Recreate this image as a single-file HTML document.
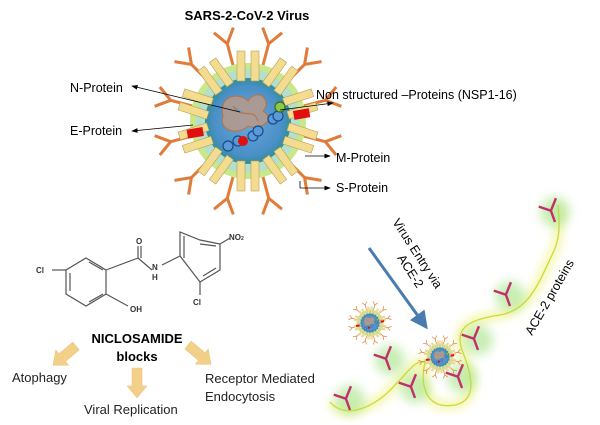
<!DOCTYPE html>
<html><head><meta charset="utf-8"><style>
body{margin:0;background:#fff}
svg{display:block;font-family:"Liberation Sans",sans-serif}
</style></head><body>
<svg id="s" width="600" height="425" viewBox="0 0 600 425">
<defs>
<filter id="glow" x="-50%" y="-50%" width="200%" height="200%"><feGaussianBlur stdDeviation="5"/></filter>
<marker id="ah" markerWidth="8" markerHeight="8" refX="7" refY="4" orient="auto"><path d="M0,1 L8,4 L0,7z" fill="#000"/></marker>
<marker id="bh" markerWidth="6" markerHeight="6" refX="5" refY="3" orient="auto"><path d="M0,0 L6,3 L0,6z" fill="#4a7bb0"/></marker>
<radialGradient id="core" cx="50%" cy="50%" r="50%"><stop offset="0" stop-color="#6aa8d8"/><stop offset="0.8" stop-color="#4a8fc8"/><stop offset="1" stop-color="#2f8f9a"/></radialGradient>
</defs>
<text x="247" y="20" font-size="13" font-weight="bold" text-anchor="middle">SARS-2-CoV-2 Virus</text>
<g id="virus"></g>
<g font-size="12.5">
<text x="70" y="92">N-Protein</text>
<text x="70" y="135">E-Protein</text>
<text x="316" y="99">Non structured –Proteins (NSP1-16)</text>
<text x="336" y="162">M-Protein</text>
<text x="336" y="192">S-Protein</text>
</g>
<g stroke="#000" stroke-width="0.8" fill="none">
<line x1="240" y1="112" x2="132" y2="86" marker-end="url(#ah)"/>
<line x1="193" y1="125" x2="132" y2="131" marker-end="url(#ah)"/>
<line x1="280" y1="110" x2="333" y2="103"  marker-end="url(#ah)"/>
<line x1="305" y1="156" x2="330" y2="156" marker-end="url(#ah)"/>
<line x1="300" y1="181" x2="300" y2="188"/>
<line x1="300" y1="188" x2="330" y2="188" marker-end="url(#ah)"/>
</g>
<g stroke="#555" stroke-width="1.2" fill="none">
<polygon points="86,258 106,270 106,294 86,306 66,294 66,270"/>
<line x1="70" y1="273" x2="70" y2="291"/><line x1="89" y1="302" x2="103" y2="294"/><line x1="89" y1="262" x2="103" y2="270"/>
<line x1="66" y1="270" x2="52" y2="270"/>
<line x1="106" y1="270" x2="138" y2="258"/>
<line x1="138" y1="258" x2="138" y2="246"/><line x1="141" y1="258" x2="141" y2="246"/>
<line x1="138" y1="258" x2="152" y2="270"/>
<line x1="162" y1="265" x2="180" y2="256"/>
<line x1="106" y1="294" x2="128" y2="306"/>
<polygon points="180,256 180,232 200,240 220,244 220,270 200,282"/>
<line x1="184" y1="258" x2="184" y2="236"/><line x1="203" y1="276" x2="216" y2="268"/><line x1="200" y1="244" x2="216" y2="246"/>
<line x1="220" y1="244" x2="230" y2="238"/>
<line x1="200" y1="282" x2="200" y2="295"/>
</g>
<g font-size="8" font-weight="bold" fill="#333">
<text x="36" y="273">Cl</text><text x="136" y="244">O</text><text x="152" y="270">N</text><text x="152" y="280">H</text>
<text x="130" y="312">OH</text><text x="229" y="240">NO<tspan font-size="5">2</tspan></text><text x="193" y="305">Cl</text>
</g>
<text x="137" y="343" font-size="13" font-weight="bold" text-anchor="middle">NICLOSAMIDE</text>
<text x="137" y="361" font-size="13" font-weight="bold" text-anchor="middle">blocks</text>
<g fill="#f2d08a" stroke="#e8c070" stroke-width="0.5">
<path d="M0,-5 L18,-5 L18,-10 L30,0 L18,10 L18,5 L0,5z" transform="translate(76,346) rotate(140)"/>
<path d="M0,-5 L18,-5 L18,-10 L30,0 L18,10 L18,5 L0,5z" transform="translate(137,368) rotate(90)"/>
<path d="M0,-5 L18,-5 L18,-10 L30,0 L18,10 L18,5 L0,5z" transform="translate(188,345) rotate(40)"/>
</g>
<g font-size="13" fill="#222">
<text x="12" y="382">Atophagy</text>
<text x="84" y="414">Viral Replication</text>
<text x="205" y="383">Receptor Mediated</text>
<text x="205" y="401">Endocytosis</text>
</g>
<path d="M330,402 C345,420 375,408 395,385 C410,370 415,360 425,362 C420,385 425,410 455,405 C480,400 470,370 462,350 C455,330 465,320 500,315 C530,310 540,280 552,255 C560,240 560,225 558,205" fill="none" stroke="#eef280" stroke-width="6" filter="url(#glow)"/>
<path d="M330,402 C345,420 375,408 395,385 C410,370 415,360 425,362 C420,385 425,410 455,405 C480,400 470,370 462,350 C455,330 465,320 500,315 C530,310 540,280 552,255 C560,240 560,225 558,205" fill="none" stroke="#cfd832" stroke-width="1.3"/>
<g id="rec"></g>
<line x1="369" y1="248" x2="426" y2="327" stroke="#4a7bb0" stroke-width="3" marker-end="url(#bh)"/>
<text font-size="12.5" transform="translate(392,222) rotate(57)">Virus Entry via</text>
<text font-size="12.5" transform="translate(397,258) rotate(57)">ACE-2</text>
<text font-size="12.5" transform="translate(532,336) rotate(-60)">ACE-2 proteins</text>
<g id="v2"></g><g id="v3"></g>
</svg>
<script>
const NS="http://www.w3.org/2000/svg";
function el(p,t,a){const e=document.createElementNS(NS,t);for(const k in a)e.setAttribute(k,a[k]);p.appendChild(e);return e;}
function virus(g,cx,cy,s){
 g.setAttribute("transform",`translate(${cx},${cy}) scale(${s})`);
 for(let i=0;i<12;i++){const a=i*30+15;const gg=el(g,"g",{transform:`rotate(${a})`,stroke:"#e07b39","stroke-width":3,fill:"none"});
  el(gg,"path",{d:"M0,-58 L0,-80 M0,-80 L-10,-94 M0,-80 L10,-94"});}
 el(g,"circle",{r:58,fill:"#c8e88a"});
 el(g,"circle",{r:52,fill:"#a9dce8",opacity:0.7});
 el(g,"circle",{r:43,fill:"url(#core)"});
 for(let i=0;i<10;i++){const a=i*36;const gg=el(g,"g",{transform:`rotate(${a})`});
  el(gg,"rect",{x:-11,y:-70,width:8,height:30,fill:"#f3dc90",stroke:"#b8a050","stroke-width":0.6});
  el(gg,"rect",{x:3,y:-70,width:8,height:30,fill:"#f3dc90",stroke:"#b8a050","stroke-width":0.6});}
 el(g,"rect",{x:-62,y:-2,width:16,height:9,fill:"#e01010",transform:"rotate(-10)"});
 el(g,"rect",{x:46,y:-2,width:16,height:9,fill:"#e01010",transform:"rotate(-10)"});
 el(g,"path",{d:"M-25,-5 C-30,-25 -10,-30 0,-20 C10,-35 25,-20 15,-10 C30,0 10,10 0,5 C-10,15 -30,10 -25,-5 M-15,-15 C-5,0 5,-15 10,0",fill:"#b99a8a",stroke:"#c0703a","stroke-width":1.2,opacity:0.85});
 [[-20,25],[-10,20],[5,15],[10,10],[25,-2],[30,-5]].forEach(p=>el(g,"circle",{cx:p[0],cy:p[1],r:5,fill:"#5a9ad8",stroke:"#1a4a8a","stroke-width":1.2}));
 el(g,"circle",{cx:-5,cy:20,r:5,fill:"#e01010"});
 el(g,"circle",{cx:32,cy:-14,r:5,fill:"#8cc84a",stroke:"#3a6a1a","stroke-width":1.2});
}
virus(document.getElementById("virus"),248,121,1);
virus(document.getElementById("v2"),370,323,0.23);
virus(document.getElementById("v3"),440,357,0.23);
const r=document.getElementById("rec");
[[350,410],[390,370],[415,398],[462,388],[510,306],[555,222],[478,350]].forEach(p=>{
 el(r,"circle",{cx:p[0],cy:p[1]-10,r:15,fill:"#9be07a",opacity:0.55,filter:"url(#glow)"});
 el(r,"path",{d:`M${p[0]},${p[1]} L${p[0]},${p[1]-12} L${p[0]-10},${p[1]-20} M${p[0]},${p[1]-12} L${p[0]+9},${p[1]-22}`,stroke:"#c0306a","stroke-width":2.4,fill:"none",transform:`rotate(-20 ${p[0]} ${p[1]})`});
});
</script>
</body></html>
